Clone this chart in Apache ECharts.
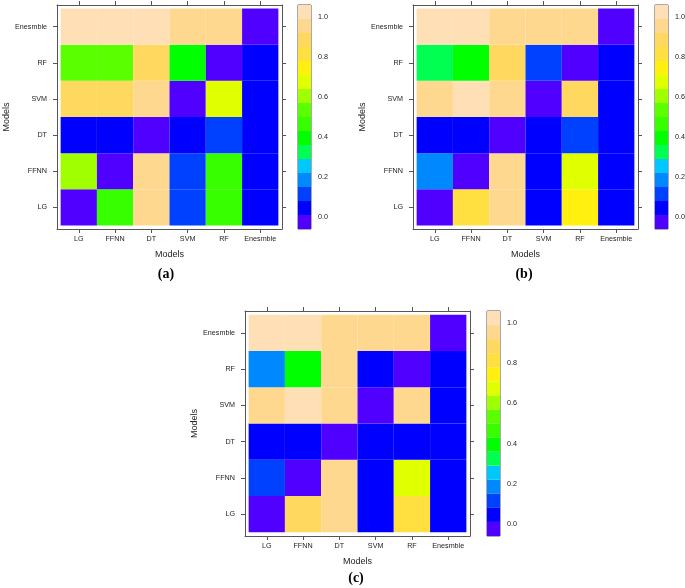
<!DOCTYPE html>
<html lang="en">
  <head>
    <meta charset="UTF-8" />
    <title>Model agreement levelplots</title>
    <style>
      html,
      body {
        margin: 0;
        padding: 0;
        background: #fff;
      }
      #main {
        width: 685px;
        height: 588px;
      }
    </style>
  </head>
  <body>
    <div id="main"></div>
    <script src="https://cdn.jsdelivr.net/npm/echarts@6/dist/echarts.min.js"></script>
    <script>
      var models = ["LG", "FFNN", "DT", "SVM", "RF", "Enesmble"];
      var tickPos = [1, 2, 3, 4, 5, 6];

      // one row per y model, bottom (LG) to top (Enesmble); columns LG..Enesmble
      var panelA = [
        [0.0, 0.46, 0.95, 0.11, 0.46, 0.04],
        [0.6, 0.0, 0.95, 0.11, 0.46, 0.04],
        [0.04, 0.04, 0.0, 0.04, 0.11, 0.04],
        [0.88, 0.88, 0.95, 0.0, 0.67, 0.04],
        [0.53, 0.53, 0.88, 0.4, 0.0, 0.04],
        [1.0, 1.0, 1.0, 0.95, 0.95, 0.0]
      ];
      var panelB = [
        [0.0, 0.81, 0.95, 0.04, 0.74, 0.04],
        [0.18, 0.0, 0.95, 0.04, 0.67, 0.04],
        [0.04, 0.04, 0.0, 0.04, 0.11, 0.04],
        [0.95, 1.0, 0.95, 0.0, 0.88, 0.04],
        [0.32, 0.4, 0.88, 0.11, 0.0, 0.04],
        [1.0, 1.0, 0.95, 0.95, 0.95, 0.0]
      ];
      var panelC = [
        [0.0, 0.88, 0.95, 0.04, 0.81, 0.04],
        [0.11, 0.0, 0.95, 0.04, 0.67, 0.04],
        [0.04, 0.04, 0.0, 0.04, 0.04, 0.04],
        [0.95, 1.0, 0.95, 0.0, 0.95, 0.04],
        [0.18, 0.4, 0.95, 0.04, 0.0, 0.04],
        [1.0, 1.0, 0.95, 0.95, 0.95, 0.0]
      ];

      // colour key: 16 bands
      var breaks = [
        -0.06, 0.01, 0.08, 0.15, 0.22, 0.29, 0.36, 0.43, 0.5, 0.57, 0.64,
        0.71, 0.78, 0.85, 0.92, 0.99, 1.06
      ];
      var palette = [
        "#5000FF", "#0000FF", "#0040FF", "#0088FF", "#00C8FF", "#00FF50",
        "#00FF00", "#38FF00", "#5AFF00", "#A0FF00", "#E0FF00", "#FFF010",
        "#FFE040", "#FFD860", "#FFD890", "#FFDFB5"
      ];
      var keyTicks = [0, 0.2, 0.4, 0.6, 0.8, 1.0];

      var FONT = "Liberation Sans";
      var frameColor = "#555";
      var textColor = "#222";

      var panels = [
        {
          values: panelA,
          tag: "(a)",
          grid: { left: 57, top: 5, width: 225, height: 224 },
          key: { left: 298, top: 5, width: 13, height: 224 },
          tagAt: [166, 274]
        },
        {
          values: panelB,
          tag: "(b)",
          grid: { left: 413, top: 5, width: 225, height: 224 },
          key: { left: 655, top: 5, width: 13, height: 224 },
          tagAt: [524, 274]
        },
        {
          values: panelC,
          tag: "(c)",
          grid: { left: 245, top: 311, width: 225, height: 225 },
          key: { left: 487, top: 311, width: 13, height: 225 },
          tagAt: [356, 578]
        }
      ];

      function toCells(matrix) {
        var out = [];
        matrix.forEach(function (row, yi) {
          row.forEach(function (v, xi) {
            out.push([xi + 1, yi + 1, v]);
          });
        });
        return out;
      }

      function modelAxis(gridIndex, position, labelled) {
        var isX = position === "bottom" || position === "top";
        var ax = {
          type: "value",
          gridIndex: gridIndex,
          position: position,
          min: 0.4,
          max: 6.6,
          axisLine: { show: true, lineStyle: { color: frameColor, width: 1 } },
          axisTick: {
            show: true,
            length: 4,
            customValues: tickPos,
            lineStyle: { color: frameColor }
          },
          axisLabel: {
            show: labelled,
            customValues: tickPos,
            formatter: function (v) {
              return models[Math.round(v) - 1] || "";
            },
            fontFamily: FONT,
            fontSize: 7.2,
            color: textColor,
            margin: isX ? 7 : 10
          },
          splitLine: { show: false }
        };
        if (labelled) {
          ax.name = "Models";
          ax.nameLocation = "middle";
          ax.nameGap = isX ? 21 : 46;
          ax.nameTextStyle = { fontFamily: FONT, fontSize: 9, color: textColor };
          if (!isX) ax.nameRotate = 90;
        }
        return ax;
      }

      function renderCell(params, api) {
        var x = api.value(0);
        var y = api.value(1);
        var p0 = api.coord([x - 0.5, y + 0.5]);
        var p1 = api.coord([x + 0.5, y - 0.5]);
        return {
          type: "rect",
          shape: { x: p0[0], y: p0[1], width: p1[0] - p0[0], height: p1[1] - p0[1] },
          style: { fill: api.visual("color") }
        };
      }

      function renderBand(params, api) {
        var i = api.value(2);
        var p0 = api.coord([0, api.value(1)]);
        var p1 = api.coord([1, api.value(0)]);
        return {
          type: "rect",
          shape: { x: p0[0], y: p0[1], width: p1[0] - p0[0], height: p1[1] - p0[1] },
          style: { fill: palette[i] }
        };
      }

      var keyBands = palette.map(function (c, i) {
        return [breaks[i], breaks[i + 1], i];
      });

      var grids = [], xAxes = [], yAxes = [], series = [], graphics = [];
      panels.forEach(function (p, k) {
        var g = grids.length;
        grids.push(Object.assign({ outerBoundsMode: "none", containLabel: false }, p.grid));
        var xb = xAxes.length;
        xAxes.push(modelAxis(g, "bottom", true));
        xAxes.push(modelAxis(g, "top", false));
        var yl = yAxes.length;
        yAxes.push(modelAxis(g, "left", true));
        yAxes.push(modelAxis(g, "right", false));
        series.push({
          type: "custom",
          name: p.tag,
          xAxisIndex: xb,
          yAxisIndex: yl,
          renderItem: renderCell,
          encode: { x: 0, y: 1 },
          data: toCells(p.values),
          silent: true
        });

        // colour key
        var gk = grids.length;
        grids.push(
          Object.assign(
            { outerBoundsMode: "none", containLabel: false, show: true, borderColor: frameColor, borderWidth: 1, backgroundColor: "transparent" },
            p.key
          )
        );
        var xk = xAxes.length;
        xAxes.push({ type: "value", gridIndex: gk, min: 0, max: 1, show: false });
        var yk = yAxes.length;
        yAxes.push({
          type: "value",
          gridIndex: gk,
          position: "right",
          min: breaks[0],
          max: breaks[breaks.length - 1],
          axisLine: { show: false },
          axisTick: { show: true, length: 4, customValues: keyTicks, lineStyle: { color: frameColor } },
          axisLabel: {
            show: true,
            customValues: keyTicks,
            formatter: function (v) {
              return v.toFixed(1);
            },
            fontFamily: FONT,
            fontSize: 7.2,
            color: textColor,
            margin: 7
          },
          splitLine: { show: false }
        });
        series.push({
          type: "custom",
          xAxisIndex: xk,
          yAxisIndex: yk,
          renderItem: renderBand,
          encode: { y: [0, 1] },
          data: keyBands,
          silent: true,
          z: 1
        });

        graphics.push({
          type: "text",
          x: p.tagAt[0],
          y: p.tagAt[1],
          style: {
            text: p.tag,
            fill: "#000",
            font: 'bold 14px "Liberation Serif"',
            textAlign: "center",
            textVerticalAlign: "middle"
          }
        });
      });

      var pieces = palette.map(function (c, i) {
        return { gte: breaks[i], lt: breaks[i + 1], color: c };
      });

      var chart = echarts.init(document.getElementById("main"));
      chart.setOption({
        animation: false,
        backgroundColor: "#fff",
        grid: grids,
        xAxis: xAxes,
        yAxis: yAxes,
        visualMap: {
          type: "piecewise",
          show: false,
          dimension: 2,
          seriesIndex: [0, 2, 4],
          pieces: pieces
        },
        series: series,
        graphic: graphics
      });
    </script>
  </body>
</html>
